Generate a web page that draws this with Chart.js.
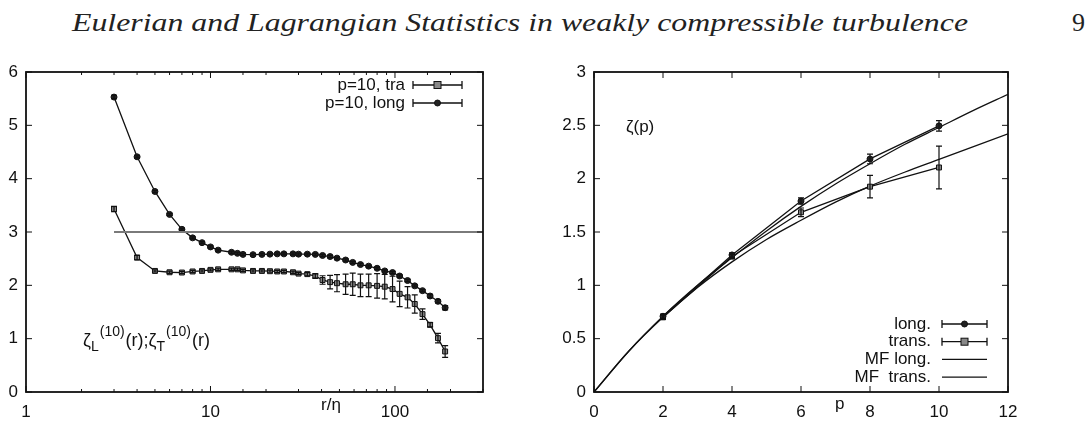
<!DOCTYPE html>
<html>
<head>
<meta charset="utf-8">
<script src="https://cdn.jsdelivr.net/npm/chart.js@4.4.1/dist/chart.umd.min.js"></script>
<style>
  html, body { margin: 0; padding: 0; background: #fff; }
  #page { position: relative; width: 1090px; height: 428px; overflow: hidden; }
  #title { position: absolute; left: 72px; top: 10px; font: italic 26px/26px "Liberation Serif", serif; white-space: nowrap; transform-origin: 0 0; color: #222; }
  #pageno { position: absolute; left: 1072px; top: 10px; font: 26px/26px "Liberation Serif", serif; color: #222; }
  #left { position: absolute; left: 0; top: 0; }
  #right { position: absolute; left: 540px; top: 0; }
</style>
</head>
<body>
<div id="page">
  <div id="title">Eulerian and Lagrangian Statistics in weakly compressible turbulence</div>
  <div id="pageno">9</div>
  <canvas id="left" width="540" height="428"></canvas>
  <canvas id="right" width="550" height="428"></canvas>
</div>
<script>
// left panel: local exponents of order 10 against r/eta
const rEta = [3, 4, 5, 6, 7, 8, 9, 10, 11, 13, 14, 15, 17, 19, 21, 23, 25, 28, 30, 33.5, 37, 40.5, 44.5, 48.5, 54, 59, 65, 72, 80, 88, 97, 106, 117, 128, 141, 155, 171, 187];
const zetaLong = [5.53, 4.41, 3.76, 3.33, 3.05, 2.89, 2.80, 2.72, 2.66, 2.62, 2.60, 2.58, 2.575, 2.58, 2.585, 2.59, 2.59, 2.59, 2.585, 2.585, 2.58, 2.56, 2.54, 2.51, 2.475, 2.43, 2.39, 2.36, 2.32, 2.27, 2.24, 2.175, 2.09, 1.99, 1.90, 1.80, 1.70, 1.58];
const zetaLongErr = [0.03, 0.02, 0.02, 0.02, 0.02, 0.02, 0.02, 0.02, 0.02, 0.02, 0.02, 0.02, 0.02, 0.02, 0.02, 0.02, 0.02, 0.02, 0.02, 0.02, 0.02, 0.02, 0.02, 0.02, 0.02, 0.02, 0.02, 0.02, 0.02, 0.02, 0.02, 0.02, 0.02, 0.02, 0.02, 0.03, 0.03, 0.04];
const zetaTrans = [3.43, 2.52, 2.27, 2.245, 2.24, 2.26, 2.27, 2.29, 2.30, 2.30, 2.30, 2.28, 2.27, 2.27, 2.265, 2.26, 2.26, 2.245, 2.22, 2.21, 2.175, 2.10, 2.06, 2.04, 2.02, 2.02, 2.00, 2.00, 1.99, 1.975, 1.93, 1.84, 1.775, 1.65, 1.46, 1.26, 1.01, 0.76];
const zetaTransErr = [0.05, 0.04, 0.02, 0.02, 0.02, 0.02, 0.02, 0.02, 0.02, 0.02, 0.02, 0.02, 0.02, 0.02, 0.02, 0.02, 0.02, 0.02, 0.02, 0.03, 0.04, 0.08, 0.125, 0.16, 0.19, 0.21, 0.21, 0.21, 0.23, 0.23, 0.24, 0.24, 0.20, 0.17, 0.10, 0.04, 0.09, 0.11];
const refR = [3, 300];
const refVal = [3, 3];
const leftXTicks = [1, 10, 100];

// right panel: scaling exponents zeta(p)
const pOrder = [2, 4, 6, 8, 10];
const zpLong = [0.71, 1.285, 1.79, 2.185, 2.495];
const zpLongErr = [0.02, 0.02, 0.03, 0.045, 0.05];
const zpTrans = [0.70, 1.27, 1.685, 1.925, 2.105];
const zpTransErr = [0.02, 0.02, 0.04, 0.105, 0.2];
const mfP = [0, 1, 2, 3, 4, 5, 6, 7, 8, 9, 10, 11, 12];
const mfLong = [0, 0.38, 0.71, 1.0, 1.26, 1.51, 1.74, 1.95, 2.14, 2.32, 2.48, 2.64, 2.79];
const mfTrans = [0, 0.38, 0.70, 0.98, 1.22, 1.43, 1.61, 1.78, 1.93, 2.06, 2.18, 2.30, 2.42];

const INK = "#111";
const FONT = "'Liberation Sans', Arial, sans-serif";

function pts(xs, ys) {
  return xs.map((x, i) => ({ x: x, y: ys[i] }));
}

// fit the page header to the width of the original
const title = document.getElementById("title");
title.style.transform = "scaleX(" + (896 / title.offsetWidth) + ")";

const errorBars = {
  id: "errorBars",
  afterDatasetsDraw(chart) {
    const ctx = chart.ctx;
    const ys = chart.scales.y;
    chart.data.datasets.forEach((ds, i) => {
      if (!ds.errors) return;
      const meta = chart.getDatasetMeta(i);
      ctx.save();
      ctx.strokeStyle = INK;
      ctx.lineWidth = 1.2;
      ctx.beginPath();
      meta.data.forEach((el, j) => {
        const v = ds.data[j].y, e = ds.errors[j];
        const y1 = ys.getPixelForValue(v - e), y2 = ys.getPixelForValue(v + e);
        ctx.moveTo(el.x, y1); ctx.lineTo(el.x, y2);
        ctx.moveTo(el.x - 3, y1); ctx.lineTo(el.x + 3, y1);
        ctx.moveTo(el.x - 3, y2); ctx.lineTo(el.x + 3, y2);
      });
      ctx.stroke();
      ctx.restore();
    });
  }
};

function isMajor(scale, v) {
  if (scale.type !== "logarithmic") return true;
  const l = Math.log10(v);
  return Math.abs(l - Math.round(l)) < 1e-9;
}

// gnuplot style border with inward ticks on all four sides
const frameTicks = {
  id: "frameTicks",
  afterDraw(chart) {
    const { ctx, chartArea: a, scales } = chart;
    ctx.save();
    ctx.strokeStyle = INK;
    ctx.lineWidth = 1;
    ctx.beginPath();
    scales.x.ticks.forEach(t => {
      const px = scales.x.getPixelForValue(t.value);
      const len = isMajor(scales.x, t.value) ? 6 : 3;
      ctx.moveTo(px, a.bottom); ctx.lineTo(px, a.bottom - len);
      ctx.moveTo(px, a.top); ctx.lineTo(px, a.top + len);
    });
    scales.y.ticks.forEach(t => {
      const py = scales.y.getPixelForValue(t.value);
      ctx.moveTo(a.left, py); ctx.lineTo(a.left + 6, py);
      ctx.moveTo(a.right, py); ctx.lineTo(a.right - 6, py);
    });
    ctx.stroke();
    ctx.lineWidth = 1.8;
    ctx.strokeRect(a.left, a.top, a.right - a.left, a.bottom - a.top);
    ctx.restore();
  }
};

function drawMarker(ctx, kind, x, y) {
  ctx.save();
  ctx.lineWidth = 1;
  ctx.strokeStyle = INK;
  if (kind === "circle") {
    ctx.fillStyle = "#222";
    ctx.beginPath();
    ctx.arc(x, y, 3, 0, Math.PI * 2);
    ctx.fill();
    ctx.stroke();
  } else {
    ctx.fillStyle = "#888";
    ctx.fillRect(x - 3.5, y - 3.5, 7, 7);
    ctx.strokeRect(x - 3.5, y - 3.5, 7, 7);
  }
  ctx.restore();
}

function legendRow(ctx, text, kind, textRight, x1, x2, y) {
  ctx.save();
  ctx.font = "17px " + FONT;
  ctx.fillStyle = INK;
  ctx.textAlign = "right";
  ctx.textBaseline = "middle";
  ctx.fillText(text, textRight, y);
  ctx.strokeStyle = INK;
  ctx.lineWidth = 1.3;
  ctx.beginPath();
  ctx.moveTo(x1, y); ctx.lineTo(x2, y);
  if (kind) {
    ctx.moveTo(x1, y - 4); ctx.lineTo(x1, y + 4);
    ctx.moveTo(x2, y - 4); ctx.lineTo(x2, y + 4);
  }
  ctx.stroke();
  ctx.restore();
  if (kind) drawMarker(ctx, kind, (x1 + x2) / 2, y);
}

// text with sub and superscripts, pieces laid out left to right
function drawRich(ctx, x, y, parts) {
  ctx.save();
  ctx.fillStyle = INK;
  ctx.textBaseline = "alphabetic";
  parts.forEach(([s, mode]) => {
    ctx.font = (mode ? "14px " : "18px ") + FONT;
    const dy = mode === "sub" ? 5 : mode === "sup" ? -10 : 0;
    ctx.fillText(s, x, y + dy);
    x += ctx.measureText(s).width + (mode ? 1 : 0);
  });
  ctx.restore();
}

const leftLabels = {
  id: "leftLabels",
  afterDraw(chart) {
    const { ctx, chartArea: a } = chart;
    legendRow(ctx, "p=10, tra", "rect", a.right - 78, a.right - 70, a.right - 21, a.top + 13);
    legendRow(ctx, "p=10, long", "circle", a.right - 78, a.right - 70, a.right - 21, a.top + 31);
    drawRich(ctx, a.left + 57, a.bottom - 46, [["ζ"], ["L", "sub"], ["(10)", "sup"], ["(r);ζ"], ["T", "sub"], ["(10)", "sup"], ["(r)"]]);
    ctx.save();
    ctx.font = "17px " + FONT;
    ctx.fillStyle = INK;
    ctx.textBaseline = "middle";
    ctx.fillText("r/η", 321, 405);
    ctx.restore();
  }
};

const rightLabels = {
  id: "rightLabels",
  afterDraw(chart) {
    const { ctx, chartArea: a } = chart;
    const rows = [["long.", "circle"], ["trans.", "rect"], ["MF long.", null], ["MF  trans.", null]];
    rows.forEach(([t, k], i) => {
      legendRow(ctx, t, k, a.right - 77, a.right - 66, a.right - 21, a.bottom - 68 + i * 17.7);
    });
    ctx.save();
    ctx.font = "17px " + FONT;
    ctx.fillStyle = INK;
    ctx.textBaseline = "middle";
    ctx.fillText("ζ(p)", a.left + 32, a.top + 55);
    ctx.fillText("p", 295, 404);
    ctx.restore();
  }
};

const tickFont = { family: FONT, size: 17 };
const noGrid = { display: false, drawTicks: false };

const leftChart = new Chart(document.getElementById("left"), {
  type: "line",
  data: {
    datasets: [
      {
        data: pts(refR, refVal),
        borderColor: "#7a7a7a", borderWidth: 2, pointRadius: 0
      },
      {
        data: pts(rEta, zetaTrans), errors: zetaTransErr,
        borderColor: INK, borderWidth: 1.3,
        pointStyle: "rect", pointRadius: 3.5, pointBackgroundColor: "#888", pointBorderColor: INK, pointBorderWidth: 1
      },
      {
        data: pts(rEta, zetaLong), errors: zetaLongErr,
        borderColor: INK, borderWidth: 1.3,
        pointStyle: "circle", pointRadius: 3, pointBackgroundColor: "#222", pointBorderColor: INK, pointBorderWidth: 1
      }
    ]
  },
  options: {
    responsive: false,
    animation: false,
    layout: { padding: { top: 72, right: 57, left: 0, bottom: 0 } },
    plugins: { legend: { display: false }, tooltip: { enabled: false } },
    scales: {
      x: {
        type: "logarithmic", min: 1, max: 300,
        grid: noGrid, border: { display: false },
        ticks: {
          autoSkip: false, maxRotation: 0, padding: 10, color: INK, font: tickFont,
          callback: v => leftXTicks.includes(v) ? String(v) : ""
        },
        afterFit: s => { s.height = 36; }
      },
      y: {
        min: 0, max: 6,
        grid: noGrid, border: { display: false },
        ticks: { stepSize: 1, padding: 8, color: INK, font: tickFont, callback: v => String(v) },
        afterFit: s => { s.width = 26; }
      }
    }
  },
  plugins: [errorBars, frameTicks, leftLabels]
});

const rightChart = new Chart(document.getElementById("right"), {
  type: "line",
  data: {
    datasets: [
      {
        data: pts(pOrder, zpLong), errors: zpLongErr,
        borderColor: INK, borderWidth: 1.3,
        pointStyle: "circle", pointRadius: 3, pointBackgroundColor: "#222", pointBorderColor: INK, pointBorderWidth: 1
      },
      {
        data: pts(pOrder, zpTrans), errors: zpTransErr,
        borderColor: INK, borderWidth: 1.3,
        pointStyle: "rect", pointRadius: 3.5, pointBackgroundColor: "#888", pointBorderColor: INK, pointBorderWidth: 1
      },
      {
        data: pts(mfP, mfLong),
        borderColor: INK, borderWidth: 1.3, pointRadius: 0, cubicInterpolationMode: "monotone"
      },
      {
        data: pts(mfP, mfTrans),
        borderColor: INK, borderWidth: 1.3, pointRadius: 0, cubicInterpolationMode: "monotone"
      }
    ]
  },
  options: {
    responsive: false,
    animation: false,
    layout: { padding: { top: 72, right: 82, left: 0, bottom: 0 } },
    plugins: { legend: { display: false }, tooltip: { enabled: false } },
    scales: {
      x: {
        type: "linear", min: 0, max: 12,
        grid: noGrid, border: { display: false },
        ticks: { stepSize: 2, maxRotation: 0, padding: 10, color: INK, font: tickFont },
        afterFit: s => { s.height = 36; }
      },
      y: {
        min: 0, max: 3,
        grid: noGrid, border: { display: false },
        ticks: { stepSize: 0.5, padding: 8, color: INK, font: tickFont, callback: v => String(v) },
        afterFit: s => { s.width = 54; }
      }
    }
  },
  plugins: [errorBars, frameTicks, rightLabels]
});
</script>
</body>
</html>
